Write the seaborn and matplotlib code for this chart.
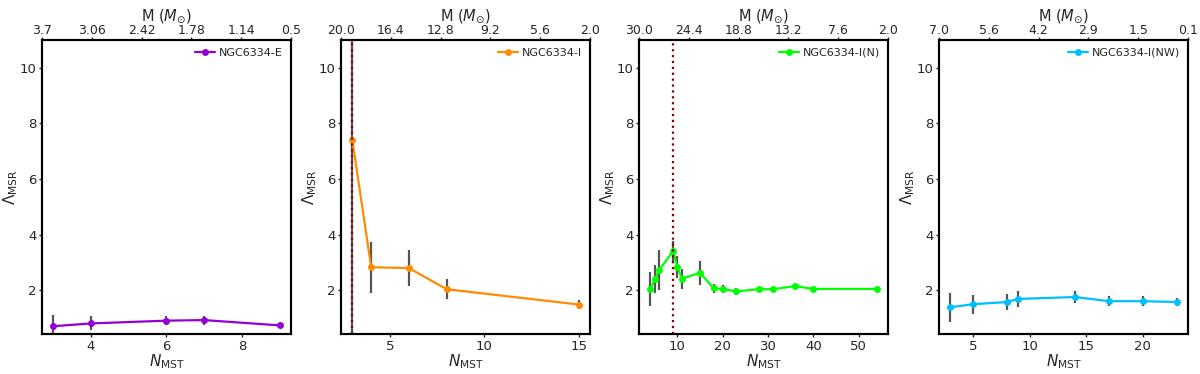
import numpy as np
import pandas as pd
import matplotlib
matplotlib.use("Agg")
import matplotlib.pyplot as plt
import seaborn as sns

sns.set_theme(style="ticks")
plt.rcParams['font.family'] = ['DejaVu Sans']
plt.rcParams['mathtext.fontset'] = 'dejavusans'

# ---- data ----
names = ["NGC6334-E", "NGC6334-I", "NGC6334-I(N)", "NGC6334-I(NW)"]
colors = ["#9400D3", "#FF8C00", "#00FF00", "#00BFFF"]

n_E = [3, 4, 6, 7, 9]
lam_E = [0.71, 0.81, 0.91, 0.93, 0.74]
err_E = [0.40, 0.25, 0.15, 0.16, 0.03]

n_I = [3, 4, 6, 8, 15]
lam_I = [7.41, 2.83, 2.80, 2.04, 1.49]
err_I = [7.0, 0.92, 0.64, 0.36, 0.15]

n_IN = [4, 5, 6, 9, 10, 11, 15, 18, 20, 23, 28, 31, 36, 40, 54]
lam_IN = [2.04, 2.40, 2.74, 3.40, 2.83, 2.42, 2.63, 2.07, 2.05, 1.96, 2.04, 2.04, 2.15, 2.05, 2.05]
err_IN = [0.61, 0.50, 0.72, 0.38, 0.39, 0.36, 0.43, 0.16, 0.15, 0.11, 0.06, 0.05, 0.07, 0.03, 0.03]

n_INW = [3, 5, 8, 9, 14, 17, 20, 23]
lam_INW = [1.39, 1.50, 1.58, 1.69, 1.76, 1.61, 1.61, 1.58]
err_INW = [0.53, 0.35, 0.30, 0.28, 0.20, 0.17, 0.17, 0.14]

top_labels = [
    ["3.7", "3.06", "2.42", "1.78", "1.14", "0.5"],
    ["20.0", "16.4", "12.8", "9.2", "5.6", "2.0"],
    ["30.0", "24.4", "18.8", "13.2", "7.6", "2.0"],
    ["7.0", "5.6", "4.2", "2.9", "1.5", "0.1"],
]
xticks_list = [[4, 6, 8], [5, 10, 15], [10, 20, 30, 40, 50], [5, 10, 15, 20]]
vlines = [None, 3, 9, None]

datasets = [(n_E, lam_E, err_E), (n_I, lam_I, err_I),
            (n_IN, lam_IN, err_IN), (n_INW, lam_INW, err_INW)]

fig = plt.figure(figsize=(12, 3.74), dpi=100)
lefts = [42, 341, 639, 939]
width = 249
bottom = 40 / 374
height = 294 / 374

for i, (x, y, e) in enumerate(datasets):
    ax = fig.add_axes([lefts[i] / 1200, bottom, width / 1200, height])
    df = pd.DataFrame({"N": x, "L": y})
    ax.errorbar(x, y, yerr=e, fmt="none", ecolor="#555555", elinewidth=1.6,
                capsize=0, zorder=2)
    sns.lineplot(data=df, x="N", y="L", ax=ax, color=colors[i], marker="o",
                 markersize=5, markeredgewidth=0, linewidth=1.6,
                 label=names[i], zorder=3, legend=True)
    if vlines[i] is not None:
        ax.axvline(vlines[i], color="#8B0000", linestyle=":", linewidth=1.6,
                   zorder=4)
    ax.set_ylim(0.43, 11.0)
    ax.set_yticks([2, 4, 6, 8, 10])
    ax.set_xticks(xticks_list[i])
    ax.set_xlabel(r"$N_{\rm MST}$", fontsize=11, labelpad=0)
    ax.set_ylabel(r"$\Lambda_{\rm MSR}$", fontsize=11, labelpad=0)
    ax.tick_params(labelsize=9.5, width=1, length=2.5, pad=1.5)
    for sp in ax.spines.values():
        sp.set_linewidth(1.5)
        sp.set_color("black")
    ax.legend(loc="upper right", frameon=False, fontsize=8,
              handlelength=1.8, borderaxespad=0.3, handletextpad=0.4)

    ax2 = ax.twiny()
    lo, hi = ax.get_xlim()
    ax2.set_xlim(lo, hi)
    ax2.set_xticks(np.linspace(lo, hi, len(top_labels[i])))
    ax2.set_xticklabels(top_labels[i])
    ax2.tick_params(labelsize=9, width=1, length=2, pad=0.5)
    ax2.set_xlabel(r"M ($M_{\odot}$)", fontsize=10.5, labelpad=2)
    for sp in ax2.spines.values():
        sp.set_linewidth(1.5)
        sp.set_color("black")

fig.savefig("out.png", dpi=100)
